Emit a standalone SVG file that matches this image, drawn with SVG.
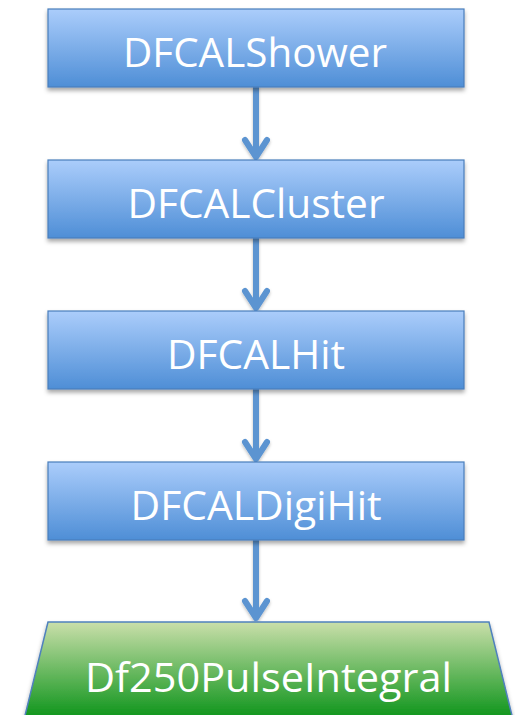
<svg xmlns="http://www.w3.org/2000/svg" width="515" height="715" viewBox="0 0 515 715">
<defs>
<linearGradient id="gb" x1="0" y1="0" x2="0" y2="1">
<stop offset="0" stop-color="#abcdfb"/>
<stop offset="1" stop-color="#4e8ed6"/>
</linearGradient>
<linearGradient id="gg" x1="0" y1="0" x2="0" y2="1">
<stop offset="0" stop-color="#cadfaa"/>
<stop offset="0.75" stop-color="#1c9a26"/>
<stop offset="1" stop-color="#008c00"/>
</linearGradient>
<filter id="sh" x="-10%" y="-20%" width="120%" height="150%">
<feDropShadow dx="0" dy="3" stdDeviation="2.2" flood-color="#000" flood-opacity="0.35"/>
</filter>
<filter id="ash" x="-50%" y="-10%" width="200%" height="130%">
<feDropShadow dx="0" dy="2" stdDeviation="1.5" flood-color="#000" flood-opacity="0.25"/>
</filter>
</defs>
<style>
.box{fill:url(#gb);stroke:#4a7ebb;stroke-width:1.2;filter:url(#sh)}
.trap{fill:url(#gg);stroke:#4f81bd;stroke-width:1.5;filter:url(#sh)}
.lbl{font-family:"Open Sans","Noto Sans","Liberation Sans",sans-serif;font-size:41px;fill:#ffffff;text-anchor:middle}
.arr{fill:none;stroke:#5b94d1;stroke-width:6;stroke-linecap:round;stroke-linejoin:round;filter:url(#ash)}
</style>
<g id="connectors">
<path class="arr" d="M256,87 V156 M245,140 L256,157 L267,140"/>
<path class="arr" d="M256,238 V307 M245,291 L256,308 L267,291"/>
<path class="arr" d="M256,389 V458 M245,442 L256,459 L267,442"/>
<path class="arr" d="M256,540 V618 M245,601 L256,618 L267,601"/>
</g>
<g id="DFCALShower">
<rect class="box" x="48" y="9" width="416" height="78"/>
<text class="lbl" x="255" y="67" textLength="264" lengthAdjust="spacingAndGlyphs">DFCALShower</text>
</g>
<g id="DFCALCluster">
<rect class="box" x="48" y="160" width="416" height="78"/>
<text class="lbl" x="256" y="218" textLength="257" lengthAdjust="spacingAndGlyphs">DFCALCluster</text>
</g>
<g id="DFCALHit">
<rect class="box" x="48" y="311" width="416" height="78"/>
<text class="lbl" x="256" y="369" textLength="178" lengthAdjust="spacingAndGlyphs">DFCALHit</text>
</g>
<g id="DFCALDigiHit">
<rect class="box" x="48" y="462" width="416" height="78"/>
<text class="lbl" x="256" y="520" textLength="251" lengthAdjust="spacingAndGlyphs">DFCALDigiHit</text>
</g>
<g id="Df250PulseIntegral">
<path class="trap" d="M48,622 H489 L518,740 H19 Z"/>
<text class="lbl" x="268.5" y="692" textLength="367" lengthAdjust="spacingAndGlyphs">Df250PulseIntegral</text>
</g>
</svg>
